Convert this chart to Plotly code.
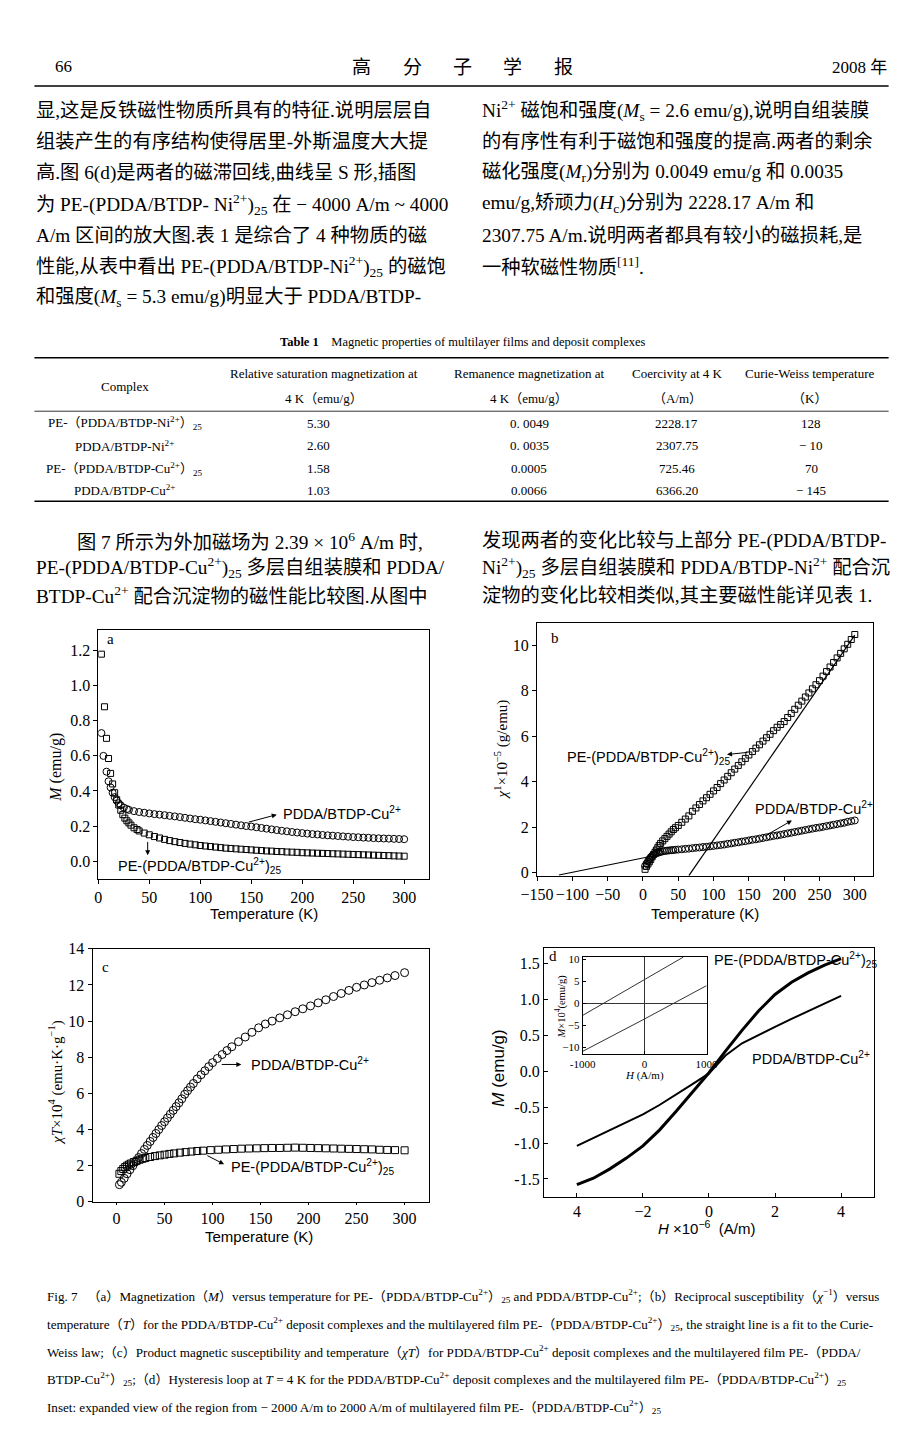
import plotly.graph_objects as go

W, H = 920, 1447
def X(px): return px / W
def Y(py): return 1 - py / H

SERIF = "Liberation Serif, Noto Sans CJK SC"
SANS = "Liberation Sans, Arial"
BODY = "Liberation Serif, Noto Sans CJK SC"

# ---------------- data: panel a (M vs T) ----------------
a_T_pdda = [3, 5, 8, 10, 12, 14, 16, 18, 20, 22, 25, 28, 30, 35, 40, 45, 50, 55, 60, 65, 70, 75, 80, 85, 90, 95,
            100, 105, 110, 115, 120, 125, 130, 135, 140, 145, 150, 155, 160, 165, 170, 175, 180, 185, 190, 195,
            200, 205, 210, 215, 220, 225, 230, 235, 240, 245, 250, 255, 260, 265, 270, 275, 280, 285, 290, 295, 300]
a_M_pdda = [0.73, 0.60, 0.51, 0.455, 0.42, 0.39, 0.365, 0.345, 0.33, 0.318, 0.305, 0.297, 0.292, 0.285, 0.28,
            0.276, 0.272, 0.268, 0.265, 0.262, 0.258, 0.255, 0.251, 0.247, 0.243, 0.239, 0.236, 0.232, 0.228,
            0.224, 0.220, 0.216, 0.212, 0.208, 0.204, 0.200, 0.197, 0.193, 0.189, 0.185, 0.181, 0.177, 0.173,
            0.170, 0.166, 0.163, 0.160, 0.157, 0.154, 0.152, 0.149, 0.147, 0.145, 0.143, 0.141, 0.139, 0.137,
            0.136, 0.134, 0.133, 0.131, 0.130, 0.129, 0.128, 0.127, 0.126, 0.125]
a_T_pe = [3, 6, 8, 10, 12, 14, 16, 18, 20, 22, 24, 26, 28, 30, 32, 35, 38, 40, 45, 50, 55, 60, 65, 70, 75, 80, 85,
          90, 95, 100, 105, 110, 115, 120, 125, 130, 135, 140, 145, 150, 155, 160, 165, 170, 175, 180, 185, 190,
          195, 200, 205, 210, 215, 220, 225, 230, 235, 240, 245, 250, 255, 260, 265, 270, 275, 280, 285, 290, 295, 300]
a_M_pe = [1.18, 0.88, 0.70, 0.585, 0.50, 0.44, 0.39, 0.35, 0.32, 0.29, 0.265, 0.245, 0.23, 0.218, 0.205, 0.19,
          0.18, 0.172, 0.16, 0.15, 0.14, 0.132, 0.124, 0.117, 0.111, 0.106, 0.101, 0.097, 0.093, 0.089, 0.086,
          0.083, 0.080, 0.077, 0.074, 0.072, 0.070, 0.068, 0.066, 0.064, 0.062, 0.060, 0.058, 0.057, 0.055,
          0.054, 0.052, 0.051, 0.050, 0.048, 0.047, 0.046, 0.045, 0.044, 0.043, 0.042, 0.041, 0.040, 0.039,
          0.038, 0.037, 0.036, 0.035, 0.034, 0.033, 0.032, 0.031, 0.030, 0.029, 0.028]

# ---------------- data: panel b (1/chi vs T) ----------------
b_T_pe = [3, 5, 7, 9, 11, 13, 15, 17, 19, 21, 23, 25, 28, 31, 34, 37, 40, 43, 46, 50, 55, 60, 65, 70, 75, 80, 85,
          90, 95, 100, 105, 110, 115, 120, 125, 130, 135, 140, 145, 150, 155, 160, 165, 170, 175, 180, 185, 190,
          195, 200, 205, 210, 215, 220, 225, 230, 235, 240, 245, 250, 255, 260, 265, 270, 275, 280, 285, 290, 295, 300]
b_X_pe = [0.15, 0.28, 0.38, 0.48, 0.58, 0.70, 0.80, 0.90, 1.00, 1.10, 1.20, 1.29, 1.40, 1.50, 1.60, 1.70, 1.80,
          1.90, 1.98, 2.08, 2.22, 2.36, 2.50, 2.70, 2.85, 3.00, 3.16, 3.30, 3.45, 3.60, 3.75, 3.92, 4.08, 4.24,
          4.40, 4.56, 4.72, 4.88, 5.03, 5.18, 5.33, 5.48, 5.63, 5.79, 5.94, 6.09, 6.25, 6.40, 6.52, 6.65, 6.83,
          7.01, 7.19, 7.37, 7.55, 7.73, 7.91, 8.09, 8.27, 8.45, 8.65, 8.85, 9.05, 9.25, 9.45, 9.65, 9.85, 10.05,
          10.26, 10.48]
b_T_pdda = [3, 5, 7, 9, 11, 13, 15, 17, 19, 21, 23, 25, 28, 31, 34, 37, 40, 43, 46, 50, 55, 60, 65, 70, 75, 80, 85,
            90, 95, 100, 105, 110, 115, 120, 125, 130, 135, 140, 145, 150, 155, 160, 165, 170, 175, 180, 185, 190,
            195, 200, 205, 210, 215, 220, 225, 230, 235, 240, 245, 250, 255, 260, 265, 270, 275, 280, 285, 290, 295, 300]
b_X_pdda = [0.30, 0.40, 0.50, 0.60, 0.68, 0.74, 0.79, 0.83, 0.86, 0.88, 0.90, 0.92, 0.94, 0.96, 0.97, 0.98, 0.99,
            1.00, 1.01, 1.02, 1.03, 1.05, 1.06, 1.08, 1.10, 1.11, 1.13, 1.14, 1.16, 1.18, 1.20, 1.22, 1.24, 1.27,
            1.29, 1.32, 1.34, 1.37, 1.39, 1.42, 1.45, 1.47, 1.50, 1.53, 1.56, 1.59, 1.62, 1.64, 1.67, 1.70, 1.73,
            1.76, 1.79, 1.82, 1.85, 1.88, 1.91, 1.94, 1.97, 1.99, 2.02, 2.05, 2.08, 2.11, 2.14, 2.17, 2.20, 2.24,
            2.27, 2.30]
b_fit_pdda_T = [-119, 19]
b_fit_pdda_X = [-0.10, 0.77]
b_fit_pe_T = [65, 300]
b_fit_pe_X = [-0.13, 10.45]

# ---------------- data: panel c (chi*T vs T) ----------------
c_T_pdda = [3, 5, 8, 11, 14, 17, 20, 23, 26, 29, 32, 35, 38, 41, 44, 47, 50, 53, 56, 59, 62, 65, 68, 71, 74, 77, 80,
            84, 88, 92, 96, 100, 105, 110, 115, 120, 127, 134, 141, 148, 155, 162, 170, 178, 186, 194, 202, 210,
            218, 226, 234, 242, 250, 258, 266, 274, 282, 290, 300]
c_X_pdda = [0.95, 1.08, 1.30, 1.55, 1.78, 2.00, 2.22, 2.45, 2.67, 2.90, 3.12, 3.34, 3.56, 3.78, 4.00, 4.22, 4.43,
            4.64, 4.85, 5.06, 5.27, 5.48, 5.70, 5.95, 6.15, 6.35, 6.55, 6.80, 7.03, 7.25, 7.48, 7.70, 7.93, 8.15,
            8.37, 8.58, 8.86, 9.12, 9.38, 9.63, 9.84, 10.00, 10.18, 10.35, 10.52, 10.68, 10.84, 11.01, 11.18,
            11.36, 11.53, 11.70, 11.87, 12.00, 12.13, 12.26, 12.39, 12.52, 12.68]
c_T_pe = [3, 5, 7, 9, 11, 13, 15, 18, 21, 24, 27, 30, 35, 40, 45, 50, 55, 60, 66, 72, 78, 84, 90, 98, 106, 114, 122,
          130, 138, 146, 154, 162, 170, 178, 186, 194, 202, 210, 218, 226, 234, 242, 250, 258, 266, 274, 282, 290, 300]
c_X_pe = [1.55, 1.70, 1.82, 1.92, 2.00, 2.06, 2.12, 2.20, 2.27, 2.33, 2.38, 2.42, 2.48, 2.53, 2.57, 2.61, 2.65,
          2.68, 2.72, 2.75, 2.78, 2.81, 2.83, 2.86, 2.88, 2.90, 2.92, 2.94, 2.95, 2.96, 2.97, 2.98, 2.98, 2.99,
          3.00, 2.99, 2.98, 2.97, 2.96, 2.95, 2.94, 2.93, 2.92, 2.91, 2.90, 2.88, 2.87, 2.86, 2.85]

# ---------------- data: panel d (hysteresis) ----------------
d_H = [-4, -3.5, -3, -2.5, -2, -1.5, -1, -0.5, 0, 0.5, 1, 1.5, 2, 2.5, 3, 3.5, 4]
d_M_pe = [-1.58, -1.49, -1.36, -1.21, -1.04, -0.82, -0.56, -0.29, -0.02, 0.28, 0.57, 0.84, 1.07, 1.24, 1.37, 1.48, 1.57]
d_M_pdda = [-1.04, -0.93, -0.81, -0.71, -0.60, -0.47, -0.33, -0.18, -0.03, 0.22, 0.39, 0.51, 0.62, 0.73, 0.84, 0.95, 1.05]
inset_H_up = [-1000, 0, 623]
inset_M_up = [-2.8, 5.3, 10.5]
inset_H_lo = [-1000, 0, 1000]
inset_M_lo = [-11.0, -3.6, 4.0]

# ---------------- table ----------------
tbl_complex = ["PE-（PDDA/BTDP-Ni<sup>2+</sup>）<sub>25</sub>", "PDDA/BTDP-Ni<sup>2+</sup>",
               "PE-（PDDA/BTDP-Cu<sup>2+</sup>）<sub>25</sub>", "PDDA/BTDP-Cu<sup>2+</sup>"]
tbl_sat = ["5.30", "2.60", "1.58", "1.03"]
tbl_rem = ["0. 0049", "0. 0035", "0.0005", "0.0066"]
tbl_coer = ["2228.17", "2307.75", "725.46", "6366.20"]
tbl_cw = ["128", "− 10", "70", "− 145"]

left_lines = [
    "显,这是反铁磁性物质所具有的特征.说明层层自",
    "组装产生的有序结构使得居里-外斯温度大大提",
    "高.图 6(d)是两者的磁滞回线,曲线呈 S 形,插图",
    "为 PE-(PDDA/BTDP- Ni<sup>2+</sup>)<sub>25</sub> 在 − 4000 A/m ~ 4000",
    "A/m 区间的放大图.表 1 是综合了 4 种物质的磁",
    "性能,从表中看出 PE-(PDDA/BTDP-Ni<sup>2+</sup>)<sub>25</sub> 的磁饱",
    "和强度(<i>M</i><sub>s</sub> = 5.3 emu/g)明显大于 PDDA/BTDP-",
]
right_lines = [
    "Ni<sup>2+</sup> 磁饱和强度(<i>M</i><sub>s</sub> = 2.6 emu/g),说明自组装膜",
    "的有序性有利于磁饱和强度的提高.两者的剩余",
    "磁化强度(<i>M</i><sub>r</sub>)分别为 0.0049 emu/g 和 0.0035",
    "emu/g,矫顽力(<i>H</i><sub>c</sub>)分别为 2228.17 A/m 和",
    "2307.75 A/m.说明两者都具有较小的磁损耗,是",
    "一种软磁性物质<sup>[11]</sup>.",
]
left2_lines = [
    "图 7 所示为外加磁场为 2.39 × 10<sup>6</sup> A/m 时,",
    "PE-(PDDA/BTDP-Cu<sup>2+</sup>)<sub>25</sub> 多层自组装膜和 PDDA/",
    "BTDP-Cu<sup>2+</sup> 配合沉淀物的磁性能比较图.从图中",
]
right2_lines = [
    "发现两者的变化比较与上部分 PE-(PDDA/BTDP-",
    "Ni<sup>2+</sup>)<sub>25</sub> 多层自组装膜和 PDDA/BTDP-Ni<sup>2+</sup> 配合沉",
    "淀物的变化比较相类似,其主要磁性能详见表 1.",
]
caption_lines = [
    "Fig. 7 　（a）Magnetization（<i>M</i>）versus temperature for PE-（PDDA/BTDP-Cu<sup>2+</sup>）<sub>25</sub> and PDDA/BTDP-Cu<sup>2+</sup>;（b）Reciprocal susceptibility（<i>χ</i><sup>−1</sup>）versus",
    "temperature（<i>T</i>）for the PDDA/BTDP-Cu<sup>2+</sup> deposit complexes and the multilayered film PE-（PDDA/BTDP-Cu<sup>2+</sup>）<sub>25</sub>, the straight line is a fit to the Curie-",
    "Weiss law;（c）Product magnetic susceptibility and temperature（<i>χT</i>）for PDDA/BTDP-Cu<sup>2+</sup> deposit complexes and the multilayered film PE-（PDDA/",
    "BTDP-Cu<sup>2+</sup>）<sub>25</sub>;（d）Hysteresis loop at <i>T</i> = 4 K for the PDDA/BTDP-Cu<sup>2+</sup> deposit complexes and the multilayered film PE-（PDDA/BTDP-Cu<sup>2+</sup>）<sub>25</sub>",
    "Inset: expanded view of the region from − 2000 A/m to 2000 A/m of multilayered film PE-（PDDA/BTDP-Cu<sup>2+</sup>）<sub>25</sub>",
]

fig = go.Figure()

def markers(x, y, sym, size, xa, ya):
    fig.add_trace(go.Scatter(x=x, y=y, mode="markers", xaxis=xa, yaxis=ya, showlegend=False,
                             marker=dict(symbol=sym, size=size, color="black", line=dict(width=1, color="black"))))

def line(x, y, w, xa, ya, color="black"):
    fig.add_trace(go.Scatter(x=x, y=y, mode="lines", xaxis=xa, yaxis=ya, showlegend=False,
                             line=dict(color=color, width=w)))

markers(a_T_pdda, a_M_pdda, "circle-open", 7, "x", "y")
markers(a_T_pe, a_M_pe, "square-open", 6, "x", "y")
markers(b_T_pe, b_X_pe, "square-open", 6, "x2", "y2")
markers(b_T_pdda, b_X_pdda, "circle-open", 7, "x2", "y2")
line(b_fit_pdda_T, b_fit_pdda_X, 1.2, "x2", "y2")
line(b_fit_pe_T, b_fit_pe_X, 1.2, "x2", "y2")
markers(c_T_pdda, c_X_pdda, "circle-open", 8, "x3", "y3")
markers(c_T_pe, c_X_pe, "square-open", 7, "x3", "y3")
line(d_H, d_M_pe, 3, "x4", "y4")
line(d_H, d_M_pdda, 2, "x4", "y4")
line(inset_H_up, inset_M_up, 1, "x5", "y5", "#333")
line(inset_H_lo, inset_M_lo, 1, "x5", "y5", "#333")

def axis(dom, rng, anchor, ticks="outside", size=16, ticklen=4, **kw):
    d = dict(domain=dom, range=rng, anchor=anchor, showline=True, mirror=True, linecolor="black",
             linewidth=1, showgrid=False, zeroline=False, ticks=ticks, ticklen=ticklen, tickcolor="black",
             tickfont=dict(family=SERIF, size=size, color="black"))
    d.update(kw)
    return d

def xdom(l, r): return [X(l), X(r)]
def ydom(t, b): return [Y(b), Y(t)]

fig.update_layout(
    width=W, height=H, margin=dict(l=0, r=0, t=0, b=0),
    paper_bgcolor="white", plot_bgcolor="rgba(0,0,0,0)", showlegend=False,
    xaxis=axis(xdom(84, 425), [0, 324], "y", tickvals=[0, 50, 100, 150, 200, 250, 300]),
    yaxis=axis(ydom(629, 881), [-0.10, 1.32], "x", tickvals=[0, 0.2, 0.4, 0.6, 0.8, 1.0, 1.2], tickformat=".1f"),
    xaxis2=axis(xdom(537, 884), [-150, 326], "y2", tickvals=[-150, -100, -50, 0, 50, 100, 150, 200, 250, 300]),
    yaxis2=axis(ydom(622, 878), [-0.13, 11.0], "x2", tickvals=[0, 2, 4, 6, 8, 10]),
    xaxis3=axis(xdom(78, 425), [-25, 325], "y3", ticklen=2, tickvals=[0, 50, 100, 150, 200, 250, 300]),
    yaxis3=axis(ydom(952, 1208), [0, 14], "x3", tickvals=[0, 2, 4, 6, 8, 10, 12, 14]),
    xaxis4=axis(xdom(544, 885), [-5, 5], "y4", ticks="inside", tickvals=[-4, -2, 0, 2, 4],
                ticktext=["4", "−2", "0", "2", "4"]),
    yaxis4=axis(ydom(951, 1203), [-1.75, 1.72], "x4", ticks="inside",
                tickvals=[-1.5, -1.0, -0.5, 0, 0.5, 1.0, 1.5],
                ticktext=["-1.5", "-1.0", "-0.5", "0.0", "0.5", "1.0", "1.5"]),
    xaxis5=axis(xdom(584, 712), [-1000, 1000], "y5", ticks="inside", size=11, ticklen=3,
                tickvals=[-1000, 0, 1000], ticktext=["-1000", "0", "1000"],
                zeroline=True, zerolinecolor="#333", zerolinewidth=1),
    yaxis5=axis(ydom(960, 1058), [-11.5, 10.6], "x5", ticks="inside", size=11, ticklen=3,
                tickvals=[-10, -5, 0, 5, 10], ticktext=["−10", "−5", "0", "5", "10"],
                zeroline=True, zerolinecolor="#333", zerolinewidth=1),
)

ann = []
def txt(px, py, text, size, family=SERIF, xanchor="left", angle=0, yanchor="middle"):
    ann.append(dict(x=X(px), y=Y(py), xref="paper", yref="paper", text=text, showarrow=False,
                    xanchor=xanchor, yanchor=yanchor, textangle=angle,
                    font=dict(family=family, size=size, color="black")))

def arrow(xa, ya, tail, head):
    ann.append(dict(x=head[0], y=head[1], ax=tail[0], ay=tail[1], xref=xa, yref=ya, axref=xa, ayref=ya,
                    text="", showarrow=True, arrowhead=2, arrowsize=1, arrowwidth=1, arrowcolor="black"))

# header
txt(48, 59, "66", 17, xanchor="center")
for i, ch in enumerate(["高", "分", "子", "学", "报"]):
    txt(356 + 52 * i, 60, ch, 19, family=BODY, xanchor="center")
txt(900, 60, "2008 年", 17, family=BODY, xanchor="right")

# body text
BS = 19.3
for i, s in enumerate(left_lines):
    txt(18, 104 + 31.5 * i, s, BS, family=BODY)
for i, s in enumerate(right_lines):
    txt(478, 104 + 31.5 * i, s, BS, family=BODY)

# table
txt(460, 338, "<b>Table 1</b>　Magnetic properties of multilayer films and deposit complexes", 12.5, xanchor="center")
cols = [111, 317, 529, 682, 818]
TS = 13
txt(cols[0], 383, "Complex", TS, xanchor="center")
for c, s in zip(cols[1:], ["Relative saturation magnetization at", "Remanence magnetization at",
                           "Coercivity at 4 K", "Curie-Weiss temperature"]):
    txt(c, 370, s, TS, xanchor="center")
for c, s in zip(cols[1:], ["4 K（emu/g）", "4 K（emu/g）", "（A/m）", "（K）"]):
    txt(c, 395, s, TS, xanchor="center")
row_y = [420, 443, 466, 488]
for i, ry in enumerate(row_y):
    txt(cols[0], ry, tbl_complex[i], TS, xanchor="center")
    txt(311, ry, tbl_sat[i], TS, xanchor="center")
    txt(529, ry, tbl_rem[i], TS, xanchor="center")
    txt(681, ry, tbl_coer[i], TS, xanchor="center")
    txt(820, ry, tbl_cw[i], TS, xanchor="center")

for i, s in enumerate(left2_lines):
    txt(60 if i == 0 else 18, 539 + 27.5 * i, s, BS, family=BODY)
for i, s in enumerate(right2_lines):
    txt(478, 539 + 27.5 * i, s, BS, family=BODY)

# panel labels
txt(97, 639, "a", 15, xanchor="center")
txt(556, 637, "b", 15, xanchor="center")
txt(91, 970, "c", 15, xanchor="center")
txt(553, 959, "d", 15, xanchor="center")

# axis titles
txt(40, 768, "<i>M</i> (emu/g)", 16, angle=-90, xanchor="center")
txt(255, 916, "Temperature (K)", 15, family=SANS, xanchor="center")
txt(500, 750, "<i>χ</i><sup>1</sup>×10<sup>−5</sup> (g/emu)", 15, angle=-90, xanchor="center")
txt(710, 916, "Temperature (K)", 15, family=SANS, xanchor="center")
txt(40, 1087, "<i>χT</i>×10<sup>4</sup> (emu·K·g<sup>−1</sup>)", 15, angle=-90, xanchor="center")
txt(250, 1243, "Temperature (K)", 15, family=SANS, xanchor="center")
txt(497, 1073, "<i>M</i> (emu/g)", 17, family=SANS, angle=-90, xanchor="center")
txt(712, 1234, "<i>H</i> ×10<sup>−6</sup>  (A/m)", 15, family=SANS, xanchor="center")
txt(648, 1080, "<i>H</i> (A/m)", 11, xanchor="center")
txt(561, 1010, "<i>M</i>×10<sup>4</sup>(emu/g)", 10.5, angle=-90, xanchor="center")

# curve labels
LAB = 14.5
txt(273, 815, "PDDA/BTDP-Cu<sup>2+</sup>", LAB, family=SANS)
txt(102, 868, "PE-(PDDA/BTDP-Cu<sup>2+</sup>)<sub>25</sub>", LAB, family=SANS)
txt(566, 758, "PE-(PDDA/BTDP-Cu<sup>2+</sup>)<sub>25</sub>", LAB, family=SANS)
txt(760, 810, "PDDA/BTDP-Cu<sup>2+</sup>", LAB, family=SANS)
txt(240, 1069, "PDDA/BTDP-Cu<sup>2+</sup>", LAB, family=SANS)
txt(219, 1173, "PE-(PDDA/BTDP-Cu<sup>2+</sup>)<sub>25</sub>", LAB, family=SANS)
txt(718, 963, "PE-(PDDA/BTDP-Cu<sup>2+</sup>)<sub>25</sub>", LAB, family=SANS)
txt(757, 1062, "PDDA/BTDP-Cu<sup>2+</sup>", LAB, family=SANS)

# arrows (tail -> head, data coords)
arrow("x", "y", (146, 0.22), (175, 0.265))
arrow("x", "y", (48.4, 0.118), (48.4, 0.034))
arrow("x2", "y2", (150, 5.3), (119, 5.2))
arrow("x2", "y2", (172, 1.6), (211, 2.3))
arrow("x3", "y3", (108, 7.6), (130, 7.6))
arrow("x3", "y3", (93, 2.6), (112, 2.08))

# caption
for i, s in enumerate(caption_lines):
    txt(29, 1303 + 28.2 * i, s, 13.1)

fig.update_layout(annotations=ann)

# rules
shapes = []
for yy, w in [(79, 1.5), (354, 1.5), (408, 0.8), (499, 1.5)]:
    shapes.append(dict(type="line", xref="paper", yref="paper", x0=X(18), x1=X(900), y0=Y(yy), y1=Y(yy),
                       line=dict(color="black", width=w)))
fig.update_layout(shapes=shapes)

fig.write_html("out.html")
